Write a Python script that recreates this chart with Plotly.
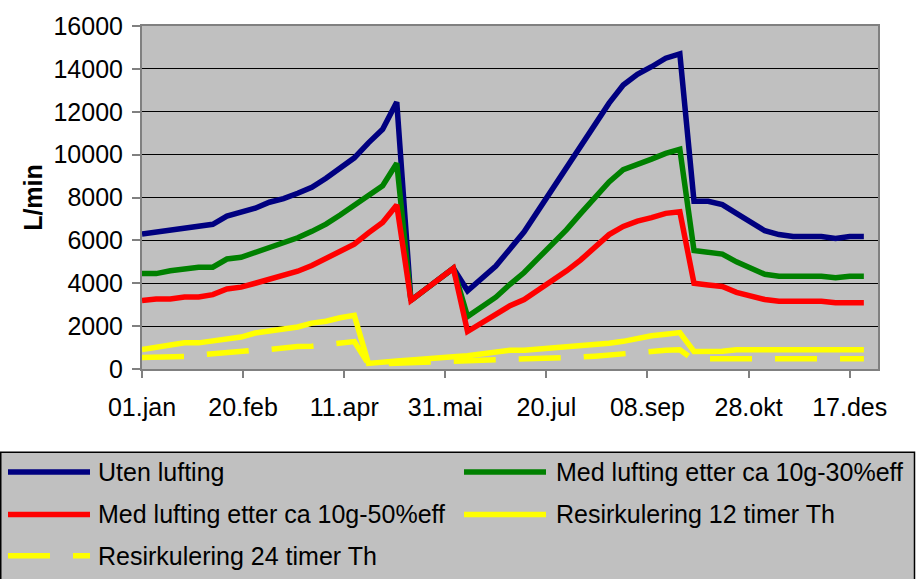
import pandas as pd
import plotly.graph_objects as go

# Weekly observations through the year
weeks = pd.date_range("2007-01-01", periods=52, freq="7D")

uten_lufting = [6300, 6390, 6480, 6570, 6660, 6750, 7130, 7300, 7500, 7780,
                7950, 8200, 8480, 8900, 9350, 9850, 10550, 11180, 12450, 3200,
                3700, 4200, 4700, 3650, 4200, 4800, 5600, 6400, 7400, 8400,
                9350, 10300, 11400, 12400, 13250, 13750, 14100, 14500, 14700, 7820,
                7820, 7670, 7260, 6880, 6450, 6270, 6180, 6180, 6180, 6090,
                6180, 6180]

lufting_30 = [4450, 4450, 4580, 4680, 4750, 4750, 5130, 5210, 5440, 5660,
              5940, 6120, 6420, 6760, 7180, 7600, 8090, 8550, 9600, 3200,
              3700, 4200, 4700, 2450, 2900, 3350, 3950, 4500, 5170, 5820,
              6500, 7260, 7970, 8730, 9300, 9530, 9790, 10060, 10250, 5530,
              5450, 5360, 5000, 4680, 4420, 4330, 4330, 4330, 4330, 4260,
              4330, 4330]

lufting_50 = [3200, 3270, 3270, 3360, 3360, 3470, 3730, 3820, 4000, 4200,
              4380, 4560, 4830, 5140, 5440, 5820, 6350, 6830, 7650, 3200,
              3700, 4200, 4700, 1750, 2150, 2500, 2950, 3240, 3670, 4100,
              4580, 5090, 5670, 6270, 6650, 6900, 7060, 7260, 7330, 4000,
              3920, 3850, 3575, 3390, 3240, 3160, 3160, 3160, 3160, 3090,
              3090, 3090]

resirk_12 = [910, 1030, 1140, 1220, 1220, 1310, 1390, 1490, 1680, 1770,
             1830, 1960, 2140, 2230, 2390, 2500, 260, 290, 370, 420,
             450, 540, 570, 620, 720, 800, 870, 880, 930, 970,
             1040, 1110, 1170, 1200, 1290, 1450, 1550, 1620, 1700, 820,
             820, 830, 900, 900, 900, 900, 900, 900, 900, 900,
             900, 900]

resirk_24 = [540, 550, 560, 580, 650, 720, 770, 830, 880, 910,
             985, 1050, 1060, 1140, 1250, 1280, 230, 250, 260, 270,
             290, 320, 360, 380, 390, 420, 460, 480, 490, 500,
             510, 560, 600, 660, 720, 780, 850, 870, 900, 420,
             480, 480, 480, 480, 480, 480, 480, 480, 480, 480,
             480, 480]

tick_labels = ["01.jan", "20.feb", "11.apr", "31.mai", "20.jul", "08.sep", "28.okt", "17.des"]
tick_dates = [pd.Timestamp("2007-01-01") + pd.Timedelta(days=50 * k) for k in range(len(tick_labels))]

LONG_DASH = "42px,23px"
series = [
    ("Uten lufting", uten_lufting, "#000080", "solid"),
    ("Med lufting etter ca 10g-30%eff", lufting_30, "#008000", "solid"),
    ("Med lufting etter ca 10g-50%eff", lufting_50, "#FF0000", "solid"),
    ("Resirkulering 12 timer Th", resirk_12, "#FFFF00", "solid"),
    ("Resirkulering 24 timer Th", resirk_24, "#FFFF00", LONG_DASH),
]

FONT = "Arial, Liberation Sans, sans-serif"
FS = 25
W, H = 916, 579
PL, PR, PT, PB = 142, 38, 21, 210
PW, PH = W - PL - PR, H - PT - PB

fig = go.Figure()
for name, vals, color, dash in series:
    fig.add_trace(go.Scatter(
        x=weeks, y=vals, name=name, mode="lines",
        line=dict(color=color, width=5.5, dash=dash),
        showlegend=False,
    ))


def fx(p):
    return (p - PL) / PW


def fy(p):
    return (H - PB - p) / PH


# Legend panel below the plot area
shapes = [dict(type="rect", xref="paper", yref="paper",
               x0=fx(0.75), x1=fx(914.5), y0=fy(453.5), y1=fy(600),
               fillcolor="#C0C0C0", line=dict(color="black", width=1.5), layer="below")]
annotations = []
row_y = [473.5, 516.5, 558.5]
col_line_x = [8, 464]
col_text_x = [96, 554]
for i, (name, vals, color, dash) in enumerate(series):
    r, c = divmod(i, 2)
    yc = fy(row_y[r])
    shapes.append(dict(type="line", xref="paper", yref="paper",
                       x0=fx(col_line_x[c]), x1=fx(col_line_x[c] + 82), y0=yc, y1=yc,
                       line=dict(color=color, width=5.5, dash=dash)))
    annotations.append(dict(text=name, xref="paper", yref="paper",
                            x=fx(col_text_x[c]), y=yc, xanchor="left", yanchor="middle",
                            showarrow=False, font=dict(family=FONT, size=FS, color="black")))

fig.update_layout(
    width=W, height=H,
    margin=dict(l=PL, r=PR, t=PT, b=PB, pad=0),
    paper_bgcolor="white", plot_bgcolor="#C0C0C0",
    font=dict(family=FONT, color="black"),
    shapes=shapes, annotations=annotations,
    showlegend=False,
)
fig.update_xaxes(
    type="date", range=["2007-01-01", "2007-12-31"],
    tickvals=tick_dates, ticktext=tick_labels,
    ticks="outside", ticklen=7, tickwidth=2, tickcolor="#808080",
    ticklabelstandoff=8,
    showgrid=False, zeroline=False,
    showline=True, linecolor="#808080", linewidth=2, mirror=True,
    tickfont=dict(family=FONT, size=FS, color="black"),
)
fig.update_yaxes(
    range=[0, 16000], dtick=2000, tickformat="d",
    ticks="outside", ticklen=8, tickwidth=2, tickcolor="#808080",
    ticklabelstandoff=4,
    showgrid=True, gridcolor="black", gridwidth=1, zeroline=False,
    showline=True, linecolor="#808080", linewidth=2, mirror=True,
    tickfont=dict(family=FONT, size=FS, color="black"),
    title=dict(text="<b>L/min</b>", font=dict(family=FONT, size=25, color="black"), standoff=4),
)

fig.write_html("out.html")
